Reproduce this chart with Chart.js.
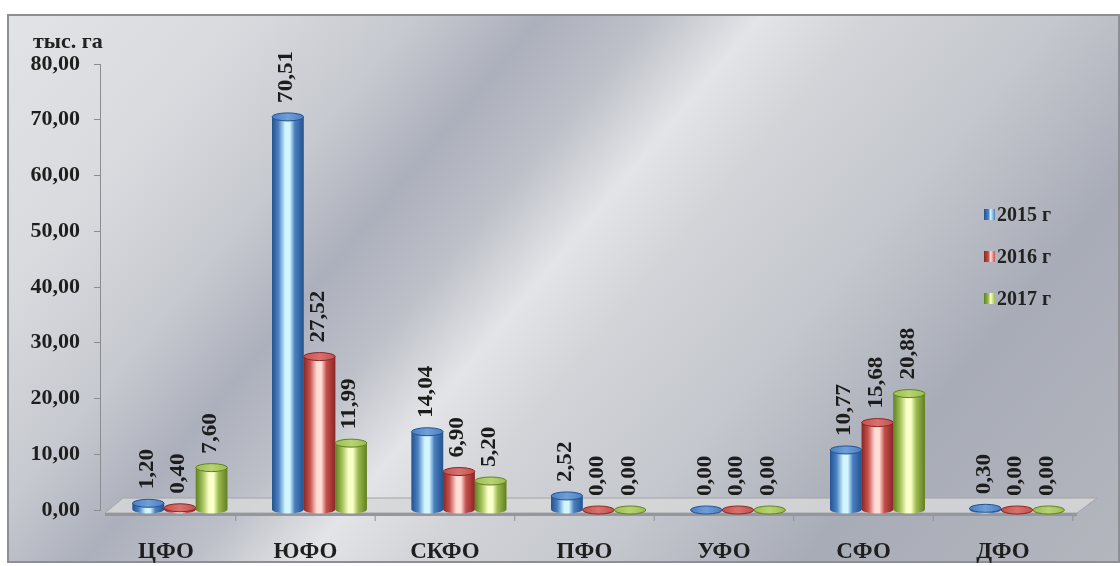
<!DOCTYPE html>
<html>
<head>
<meta charset="utf-8">
<script src="https://cdn.jsdelivr.net/npm/chart.js@4.4.1/dist/chart.umd.min.js"></script>
<style>
  html, body { margin: 0; padding: 0; background: #fff; }
  .wrap { position: relative; width: 1120px; height: 566px; overflow: hidden; }
  .frame {
    position: absolute; left: 7px; top: 14px; width: 1109px; height: 545px;
    border: 2px solid #8d8f94;
    background: linear-gradient(130deg, #e2e3e6 0%, #d9dade 15%, #c6c9cf 26%, #acb0bc 34%, #bdc0c8 41%, #e3e4e7 48%, #d2d4d8 55%, #c4c7cd 67%, #a8acb7 80%, #b3b6bd 100%);
  }
  canvas { position: absolute; left: 0; top: 0; }
  .unit {
    position: absolute; left: 33px; top: 28px;
    font: bold 22px "Liberation Serif", "Times New Roman", serif; color: #222;
  }
  .legend { position: absolute; left: 984px; top: 203px; }
  .legend div {
    height: 42px; font: bold 20px "Liberation Serif", "Times New Roman", serif; color: #222;
    display: flex; align-items: flex-start;
  }
  .legend span { display: inline-block; width: 11px; height: 11px; margin: 6px 2px 0 0; }
</style>
</head>
<body>
<div class="wrap">
  <div class="frame"></div>
  <canvas id="chart" width="1120" height="566"></canvas>
  <div class="unit">тыс. га</div>
  <div class="legend" id="legend"></div>
</div>
<script>
const categories = ['ЦФО', 'ЮФО', 'СКФО', 'ПФО', 'УФО', 'СФО', 'ДФО'];
const seriesNames = ['2015 г', '2016 г', '2017 г'];
const values2015 = [1.20, 70.51, 14.04, 2.52, 0.00, 10.77, 0.30];
const values2016 = [0.40, 27.52, 6.90, 0.00, 0.00, 15.68, 0.00];
const values2017 = [7.60, 11.99, 5.20, 0.00, 0.00, 20.88, 0.00];
const yTicks = [0, 10, 20, 30, 40, 50, 60, 70, 80];

const palette = [
  { main: '#4a7fc0', dark: '#24538f', light: '#d2f6ff', top: '#6f9fd8' },
  { main: '#c4504c', dark: '#8a2624', light: '#ffdcd6', top: '#d8726e' },
  { main: '#9cbc52', dark: '#617f22', light: '#fbffc8', top: '#b7d470' }
];

const fmt = v => v.toFixed(2).replace('.', ',');
const serif = '"Liberation Serif", "Times New Roman", serif';

// legend
const legendEl = document.getElementById('legend');
seriesNames.forEach((name, i) => {
  const row = document.createElement('div');
  const sw = document.createElement('span');
  sw.style.background = 'linear-gradient(90deg,' + palette[i].dark + ',' + palette[i].main + ' 40%,' + palette[i].light + ' 60%,' + palette[i].main + ')';
  row.appendChild(sw);
  row.appendChild(document.createTextNode(name));
  legendEl.appendChild(row);
});

function drawCylinder(ctx, x, top, base, w, c) {
  const rx = w / 2, ry = 4;
  const l = x - rx;
  const g = ctx.createLinearGradient(l, 0, l + w, 0);
  g.addColorStop(0, c.dark);
  g.addColorStop(0.2, c.main);
  g.addColorStop(0.42, c.light);
  g.addColorStop(0.56, c.light);
  g.addColorStop(0.72, c.main);
  g.addColorStop(1, c.dark);
  ctx.fillStyle = g;
  ctx.beginPath();
  ctx.moveTo(l, top);
  ctx.lineTo(l, base);
  ctx.ellipse(x, base, rx, ry, 0, Math.PI, 0, true);
  ctx.lineTo(l + w, top);
  ctx.closePath();
  ctx.fill();
  ctx.beginPath();
  ctx.ellipse(x, top, rx, ry, 0, 0, Math.PI * 2);
  const tg = ctx.createLinearGradient(l, 0, l + w, 0);
  tg.addColorStop(0, c.main);
  tg.addColorStop(0.5, c.top);
  tg.addColorStop(1, c.main);
  ctx.fillStyle = tg;
  ctx.fill();
  ctx.strokeStyle = c.dark;
  ctx.lineWidth = 1;
  ctx.stroke();
}

const floorPlugin = {
  id: 'floor',
  beforeDatasetsDraw(chart) {
    const ctx = chart.ctx;
    const a = chart.chartArea;
    const yb = chart.scales.y.getPixelForValue(0);
    ctx.save();
    // top face
    ctx.beginPath();
    ctx.moveTo(a.left + 5, yb + 3);
    ctx.lineTo(a.left + 23, yb - 12);
    ctx.lineTo(a.right + 20, yb - 12);
    ctx.lineTo(a.right, yb + 3);
    ctx.closePath();
    ctx.fillStyle = 'rgba(214,215,216,0.85)';
    ctx.fill();
    ctx.strokeStyle = '#a3a4a8';
    ctx.lineWidth = 1;
    ctx.stroke();
    // front edge
    ctx.fillStyle = '#96979c';
    ctx.fillRect(a.left + 5, yb + 3, a.right - a.left - 5, 3);
    // small category ticks
    ctx.strokeStyle = '#8e9095';
    for (let i = 0; i < categories.length; i++) {
      const xp = chart.scales.x.getPixelForValue(i + 0.5) - 14;
      ctx.beginPath();
      ctx.moveTo(xp, yb + 6);
      ctx.lineTo(xp, yb + 11);
      ctx.stroke();
    }
    ctx.restore();
  },
  afterDatasetsDraw(chart) {
    const ctx = chart.ctx;
    ctx.save();
    chart.data.datasets.forEach((ds, di) => {
      const meta = chart.getDatasetMeta(di);
      meta.data.forEach(el => {
        drawCylinder(ctx, el.x, el.y, el.base, el.width, palette[di]);
      });
    });
    chart.data.datasets.forEach((ds, di) => {
      const meta = chart.getDatasetMeta(di);
      meta.data.forEach((el, i) => {
        ctx.save();
        ctx.translate(el.x - 1, el.y - 14);
        ctx.rotate(-Math.PI / 2);
        ctx.scale(1.1, 1);
        ctx.font = 'bold 21px ' + serif;
        ctx.textAlign = 'left';
        ctx.textBaseline = 'middle';
        ctx.fillStyle = '#1c1c1c';
        ctx.fillText(fmt(ds.data[i].y), 0, 0);
        ctx.restore();
      });
    });
    ctx.restore();
  }
};

const seriesValues = [values2015, values2016, values2017];

new Chart(document.getElementById('chart'), {
  type: 'bar',
  data: {
    datasets: seriesNames.map((name, i) => ({
      label: name,
      data: seriesValues[i].map((v, j) => ({ x: j, y: v })),
      backgroundColor: palette[i].main,
      borderWidth: 0,
      categoryPercentage: 0.68,
      barPercentage: 1
    }))
  },
  options: {
    responsive: false,
    animation: false,
    layout: { padding: { top: 64, right: 43, left: 0, bottom: 0 } },
    plugins: { legend: { display: false }, tooltip: { enabled: false } },
    scales: {
      x: {
        type: 'linear',
        offset: false,
        min: -0.573,
        max: 6.43,
        grid: { display: false, offset: false },
        border: { display: false },
        afterFit(scale) { scale.height = 56; },
        ticks: {
          stepSize: 1,
          includeBounds: false,
          autoSkip: false,
          maxRotation: 0,
          labelOffset: -14,
          padding: 20,
          color: '#1e1e1e',
          font: { family: serif, size: 23, weight: 'bold' },
          callback: v => (Number.isInteger(v) && categories[v]) ? categories[v] : ''
        }
      },
      y: {
        min: 0,
        max: 80,
        afterFit(scale) { scale.width = 100; },
        afterBuildTicks(scale) { scale.ticks = yTicks.map(v => ({ value: v })); },
        grid: { drawOnChartArea: false, drawTicks: true, tickLength: 6, color: '#8a8c90' },
        border: { display: true, color: '#8a8c90', width: 1 },
        ticks: {
          padding: 14,
          color: '#1e1e1e',
          font: { family: serif, size: 22, weight: 'bold' },
          callback: v => fmt(v)
        }
      }
    }
  },
  plugins: [floorPlugin]
});
</script>
</body>
</html>
